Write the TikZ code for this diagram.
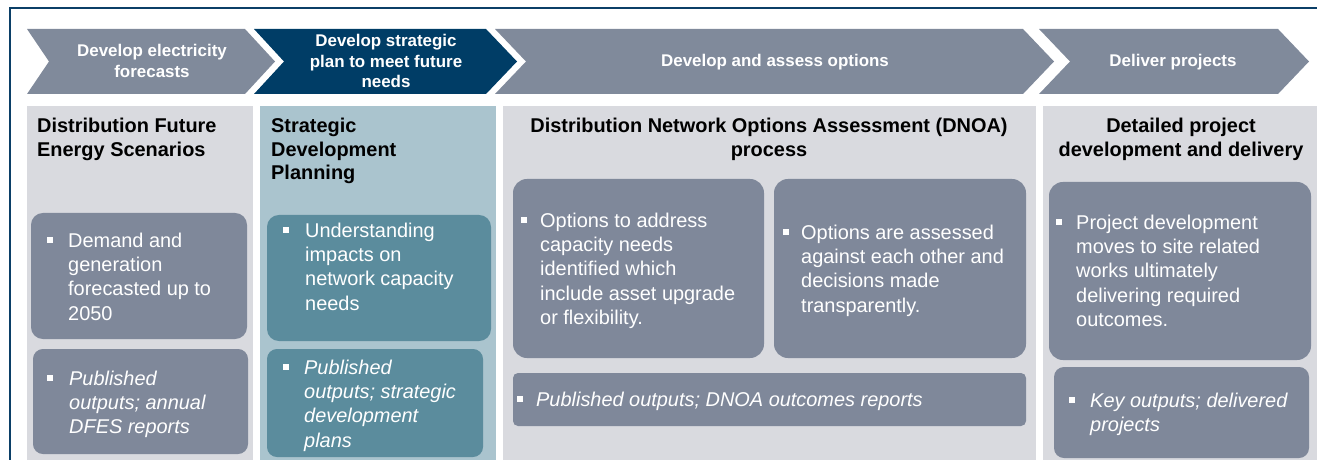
\documentclass[tikz,border=0pt]{standalone}
\usepackage{fontspec}
\setmainfont{Liberation Sans}
\usetikzlibrary{positioning}
\definecolor{frameblue}{HTML}{0B3F67}
\definecolor{chevgray}{HTML}{808A9B}
\definecolor{chevnavy}{HTML}{003D66}
\definecolor{panelgray}{HTML}{D9DADF}
\definecolor{panelblue}{HTML}{AAC4CE}
\definecolor{boxgray}{HTML}{7F889A}
\definecolor{boxteal}{HTML}{5B8C9D}

\begin{document}
\begin{tikzpicture}[x=1bp,y=-1bp,
	chevtext/.style={text=white, align=center, inner sep=0pt,
			font=\fontsize{17}{21}\selectfont\bfseries},
	heading/.style={text=black, inner sep=0pt,
			font=\fontsize{20}{24}\selectfont\bfseries},
	bodytext/.style={text=white, align=left, inner sep=0pt, anchor=north west,
			font=\fontsize{20}{24.5}\selectfont},
	bullet/.style={fill=white, minimum size=5.5, inner sep=0pt, anchor=south west},
	]

	\useasboundingbox (0,0) rectangle (1317,460);

	% frame
	\draw[frameblue, line width=2] (1317,8) -- (10,8) -- (10,460);

	% process chevrons
	\fill[chevgray] (27,29) -- (245,29) -- (275,61.5) -- (245,94) -- (27,94) -- (49,61.5) -- cycle;
	\fill[chevnavy] (254,29) -- (486,29) -- (517,61.5) -- (486,94) -- (254,94) -- (284,61.5) -- cycle;
	\fill[chevgray] (495,29) -- (1023,29) -- (1054,61.5) -- (1023,94) -- (495,94) -- (526,61.5) -- cycle;
	\fill[chevgray] (1039,29) -- (1278,29) -- (1309,61.5) -- (1278,94) -- (1039,94) -- (1070,61.5) -- cycle;

	\node[chevtext] (forecast) at (152,60.5) {Develop electricity\\forecasts};
	\node[chevtext] (strategy) at (386,61) {Develop strategic\\plan to meet future\\needs};
	\node[chevtext] (options) at (775,62) {Develop and assess options};
	\node[chevtext] (deliver) at (1173,62) {Deliver projects};

	% panels
	\fill[panelgray] (27,106) rectangle (253,460);
	\fill[panelblue] (260,106) rectangle (496,460);
	\fill[panelgray] (503,106) rectangle (1036,460);
	\fill[panelgray] (1043,106) rectangle (1317,460);

	% boxes
	\fill[boxgray, rounded corners=12] (31,213) rectangle (247,339);
	\fill[boxgray, rounded corners=10] (33,349) rectangle (248,454);
	\fill[boxteal, rounded corners=12] (267,215) rectangle (491,341);
	\fill[boxteal, rounded corners=10] (267,349) rectangle (483,457);
	\fill[boxgray, rounded corners=14] (513,179) rectangle (764,358);
	\fill[boxgray, rounded corners=14] (774,179) rectangle (1026,358);
	\fill[boxgray, rounded corners=5] (513,373) rectangle (1026,426);
	\fill[boxgray, rounded corners=14] (1049,182) rectangle (1311,360);
	\fill[boxgray, rounded corners=10] (1054,367) rectangle (1309,458);

	% headings
	\node[heading, anchor=north west, align=left] (dfes) at (37,117.5) {Distribution Future\\Energy Scenarios};
	\node[heading, anchor=north west, align=left] (sdp) at (271,117.5) {Strategic\\Development\\Planning};
	\node[heading, anchor=north, align=center] (dnoa) at (769,117.5) {Distribution Network Options Assessment (DNOA)\\process};
	\node[heading, anchor=north, align=center] (detail) at (1181,117.5) {Detailed project\\development and delivery};

	% bullets and texts
	\node[bullet] (demandbul) at (47,243) {};
	\node[bodytext] (demand) at (68,232.5) {Demand and\\generation\\forecasted up to\\2050};

	\node[bullet] (dfesbul) at (47,381) {};
	\node[bodytext, font=\fontsize{20}{24.5}\selectfont\itshape] (dfesout) at (69,370.5) {Published\\outputs; annual\\DFES reports};

	\node[bullet] (impactbul) at (283,233) {};
	\node[bodytext] (impact) at (305,222.5) {Understanding\\impacts on\\network capacity\\needs};

	\node[bullet] (sdpbul) at (283,370) {};
	\node[bodytext, font=\fontsize{20}{24.5}\selectfont\itshape] (sdpout) at (304,359.5) {Published\\outputs; strategic\\development\\plans};

	\node[bullet] (addressbul) at (521,223) {};
	\node[bodytext] (address) at (540,212.5) {Options to address\\capacity needs\\identified which\\include asset upgrade\\or flexibility.};

	\node[bullet] (assessbul) at (783,235) {};
	\node[bodytext] (assess) at (801,224.5) {Options are assessed\\against each other and\\decisions made\\transparently.};

	\node[bullet] (dnoabul) at (517,402) {};
	\node[bodytext, font=\fontsize{20}{24.5}\selectfont\itshape] (dnoaout) at (536,391.5) {Published outputs; DNOA outcomes reports};

	\node[bullet] (projectbul) at (1056,225) {};
	\node[bodytext] (project) at (1076,214.5) {Project development\\moves to site related\\works ultimately\\delivering required\\outcomes.};

	\node[bullet] (keybul) at (1069,403) {};
	\node[bodytext, font=\fontsize{20}{24.5}\selectfont\itshape] (keyout) at (1090,392.5) {Key outputs; delivered\\projects};

\end{tikzpicture}
\end{document}
